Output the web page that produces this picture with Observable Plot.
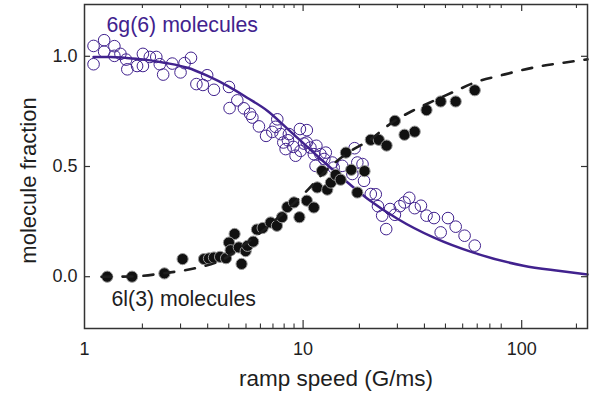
<!DOCTYPE html>
<html><head><meta charset="utf-8">
<script src="https://cdn.jsdelivr.net/npm/d3@7"></script>
<script src="https://cdn.jsdelivr.net/npm/@observablehq/plot@0.6"></script>
<style>
html,body{margin:0;padding:0;background:#fff;}
#chart svg{display:block;}
</style></head><body><div id="chart"></div>
<script>
// 6g(6) molecules (open circles)
const open6gX = [1.10,1.23,1.23,1.37,1.37,1.10,1.46,1.55,1.57,1.74,1.85,1.85,1.99,2.13,2.21,2.29,2.52,2.75,2.87,3.07,3.64,3.25,3.48,3.91,4.58,4.61,5.00,5.36,5.72,5.86,6.28,6.77,7.23,7.62,7.48,7.89,8.12,8.61,8.52,8.32,9.02,9.67,10.4,9.24,9.74,10.4,10.8,11.2,12.0,12.7,11.5,10.1,12.5,13.6,11.4,13.8,17.2,17.7,18.7,15.1,16.8,19.0,20.4,21.5,22.0,23.0,24.0,25.0,26.3,27.7,29.1,30.6,32.4,34.6,36.7,39.7,46.0,42.6,49.9,54.8,61.0];
const open6gY = [1.047,1.073,1.021,1.046,1.002,0.964,1.011,0.985,0.941,0.956,1.011,0.956,0.997,0.997,0.964,0.917,0.967,0.927,0.969,0.993,0.914,0.874,0.870,0.848,0.861,0.765,0.800,0.764,0.739,0.722,0.682,0.639,0.657,0.714,0.680,0.647,0.609,0.647,0.619,0.579,0.589,0.670,0.665,0.549,0.571,0.609,0.586,0.556,0.556,0.563,0.594,0.604,0.534,0.518,0.503,0.495,0.583,0.518,0.511,0.503,0.466,0.435,0.375,0.374,0.320,0.277,0.216,0.307,0.281,0.320,0.337,0.358,0.311,0.322,0.277,0.266,0.266,0.201,0.227,0.186,0.141];
// 6l(3) molecules (filled circles)
const fill6lX = [1.27,1.65,2.32,2.81,3.52,3.71,3.91,4.17,4.44,5.23,4.86,4.58,4.66,5.08,5.46,5.57,5.91,6.15,6.53,7.10,7.59,8.01,8.47,9.08,9.62,10.4,11.2,11.6,12.9,13.4,12.2,14.1,14.85,15.7,16.6,19.1,17.7,20.4,22.2,24.1,26.3,29.1,32.4,36.7,42.6,49.9,61.0];
const fill6lY = [0.000,0.000,0.015,0.080,0.080,0.083,0.087,0.090,0.084,0.058,0.194,0.155,0.120,0.133,0.116,0.140,0.159,0.214,0.221,0.246,0.231,0.270,0.316,0.337,0.270,0.345,0.314,0.405,0.395,0.427,0.480,0.462,0.440,0.563,0.485,0.479,0.382,0.621,0.621,0.595,0.707,0.644,0.658,0.756,0.795,0.795,0.846];
// fitted curves
const fit6gX = [1.10,1.315,1.54,1.86,2.35,2.96,3.66,4.51,5.57,6.88,8.49,11.2,14.9,19.7,27.0,39.7,60.2,101.9,150,200];
const fit6gY = [0.997,0.997,0.993,0.986,0.970,0.948,0.911,0.866,0.811,0.752,0.671,0.562,0.453,0.354,0.263,0.177,0.109,0.050,0.026,0.010];
const fit6lX = [1.196,1.64,2.32,3.29,4.28,5.46,6.73,8.32,10.2,12.7,16.0,20.2,25.4,31.7,40.4,50.4,62.9,79.3,99.0,123.5,155.7,200];
const fit6lY = [0.000,0.001,0.016,0.041,0.077,0.150,0.218,0.299,0.381,0.481,0.562,0.621,0.698,0.753,0.802,0.845,0.886,0.912,0.936,0.956,0.971,0.986];
// axes
const xMajorTicks = [10, 100];
const xTickLabels = [1, 10, 100];
const xMinorTicks = [1.84,2.75,3.66,4.57,5.48,6.38,7.28,8.19,9.09,18.1,27.0,35.9,44.8,53.7,62.6,71.5,80.6,178];
const yTicks = [0, 0.5, 1.0];
const labels6g = ["6g(6) molecules"];
const labels6l = ["6l(3) molecules"];
const xLabel = ["ramp speed (G/ms)"];
const yLabel = ["molecule fraction"];

const W = 597, H = 401, mL = 84, mR = 10, mT = 4, mB = 73;
const innerH = H - mT - mB, innerW = W - mL - mR;
const purple = "#41228e", dark = "#1e1e1e", axisCol = "#333";

const zip = (xs, ys) => xs.map((x, i) => ({x, y: ys[i]}));
const open6g = zip(open6gX, open6gY);
const fill6l = zip(fill6lX, fill6lY);
const fit6g = zip(fit6gX, fit6gY);
const fit6l = zip(fit6lX, fit6lY);

const plot = Plot.plot({
  width: W, height: H,
  marginLeft: mL, marginRight: mR, marginTop: mT, marginBottom: mB,
  style: {fontFamily: "'Liberation Sans', Arial, Helvetica, sans-serif", background: "#fff", color: dark},
  x: {type: "log", domain: [1, 200], axis: null},
  y: {domain: [-0.235, 1.235], axis: null},
  marks: [
    Plot.line(fit6g, {x: "x", y: "y", stroke: purple, strokeWidth: 2.5, curve: "monotone-x"}),
    Plot.dot(open6g, {x: "x", y: "y", r: 5.8, stroke: purple, strokeWidth: 1, fill: "none"}),
    Plot.dot(fill6l, {x: "x", y: "y", r: 5.6, fill: "#111", stroke: "#9a9a9a", strokeWidth: 1}),
    Plot.line(fit6l, {x: "x", y: "y", stroke: dark, strokeWidth: 2.6, strokeDasharray: "10,11", curve: "monotone-x"}),
    Plot.frame({stroke: axisCol, strokeWidth: 1.5}),
    // x ticks bottom & top (inward)
    Plot.ruleX(xMajorTicks, {x: d => d, insetTop: innerH - 8, stroke: axisCol, strokeWidth: 1.2}),
    Plot.ruleX(xMinorTicks, {x: d => d, insetTop: innerH - 4.5, stroke: axisCol, strokeWidth: 1.1}),
    Plot.ruleX(xMajorTicks, {x: d => d, insetBottom: innerH - 7, stroke: axisCol, strokeWidth: 1.2}),
    Plot.ruleX(xMinorTicks, {x: d => d, insetBottom: innerH - 4, stroke: axisCol, strokeWidth: 1.1}),
    // y ticks left & right (inward)
    Plot.ruleY(yTicks, {y: d => d, insetRight: innerW - 6, stroke: axisCol, strokeWidth: 1.2}),
    Plot.ruleY(yTicks, {y: d => d, insetLeft: innerW - 6, stroke: axisCol, strokeWidth: 1.2}),
    // tick labels
    Plot.text(xTickLabels, {x: d => d, frameAnchor: "bottom", lineAnchor: "middle", textAnchor: "middle", dy: 21, text: d => String(d), fontSize: 18, fill: dark}),
    Plot.text(yTicks, {y: d => d, frameAnchor: "left", lineAnchor: "middle", textAnchor: "end", dx: -7, text: d => d.toFixed(1), fontSize: 18, fill: dark}),
    // axis titles
    Plot.text(xLabel, {frameAnchor: "bottom", lineAnchor: "middle", textAnchor: "middle", dy: 50, text: d => d, fontSize: 22.5, fill: dark}),
    Plot.text(yLabel, {frameAnchor: "left", lineAnchor: "middle", textAnchor: "middle", rotate: -90, dx: -56, dy: 14, text: d => d, fontSize: 22, fill: dark}),
    // annotations
    Plot.text(labels6g, {frameAnchor: "top-left", lineAnchor: "middle", textAnchor: "start", dx: 22, dy: 20.4, text: d => d, fontSize: 21.3, fill: purple}),
    Plot.text(labels6l, {frameAnchor: "bottom-left", lineAnchor: "middle", textAnchor: "start", dx: 27, dy: -29.6, text: d => d, fontSize: 21.3, fill: dark})
  ]
});
document.getElementById("chart").appendChild(plot);
</script>
</body></html>
